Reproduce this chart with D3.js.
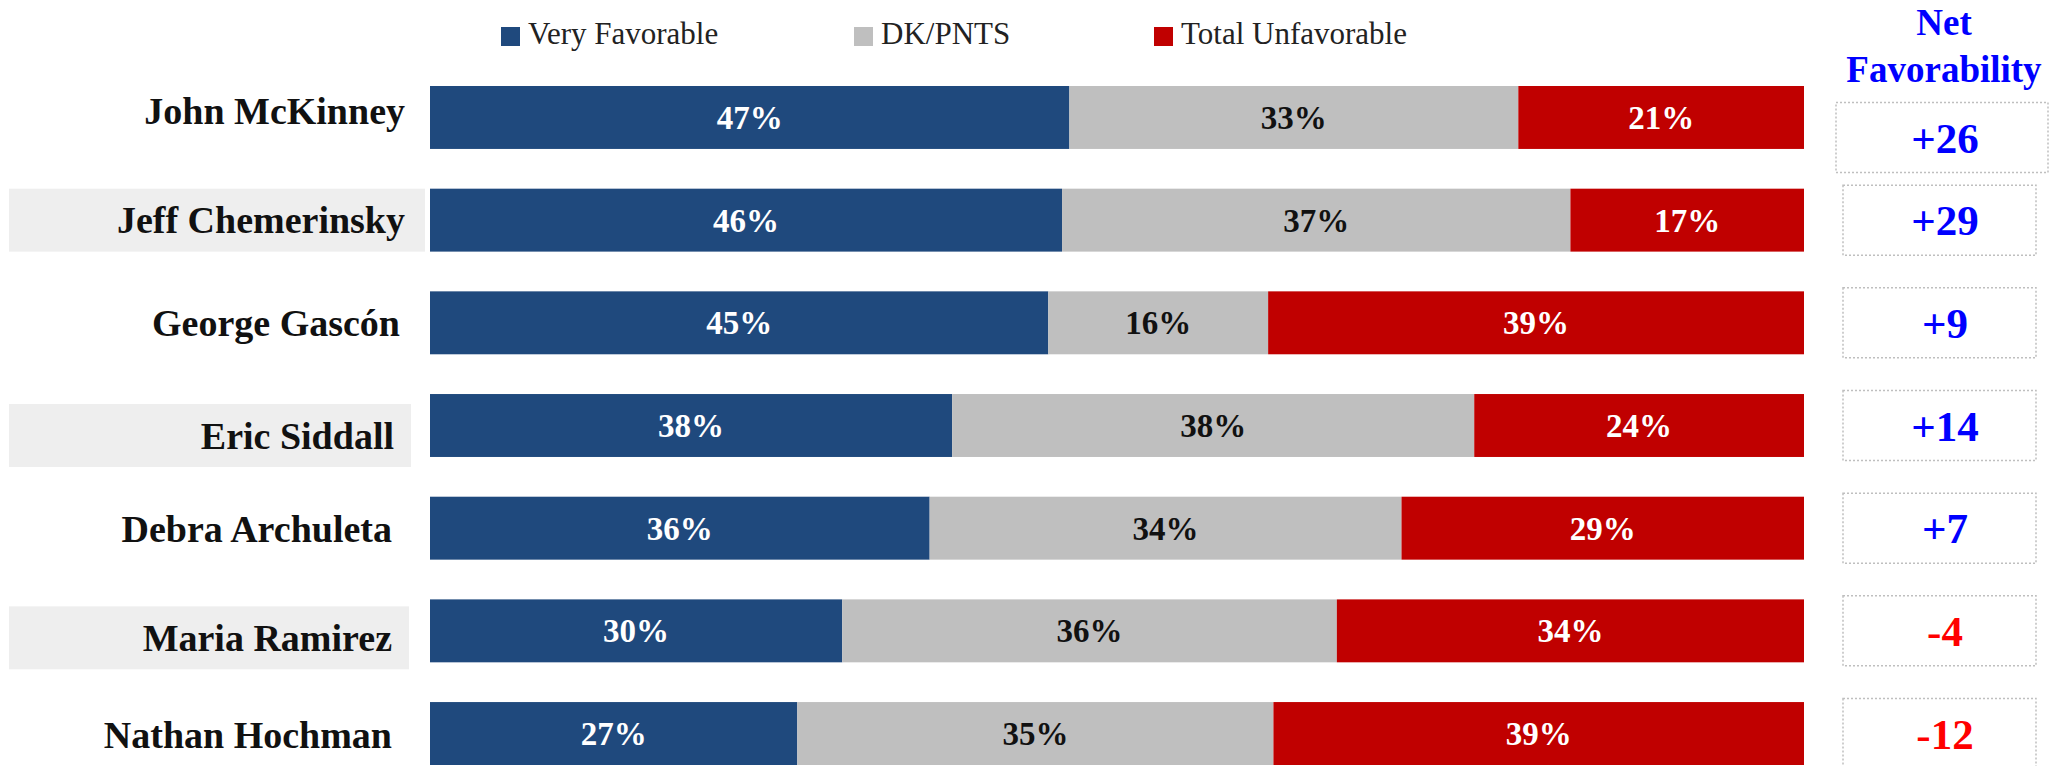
<!DOCTYPE html>
<html lang="en">
<head>
<meta charset="utf-8">
<title>Favorability</title>
<script src="https://cdnjs.cloudflare.com/ajax/libs/d3/7.8.5/d3.min.js"></script>
<style>
  body { margin: 0; background: #fff; }
  svg { display: block; font-family: 'Liberation Serif', 'Times New Roman', serif; }
</style>
</head>
<body>
<svg id="chart"></svg>
<script>
// candidates, top to bottom
var candidates = ["John McKinney", "Jeff Chemerinsky", "George Gascón", "Eric Siddall",
                  "Debra Archuleta", "Maria Ramirez", "Nathan Hochman"];
var veryFavorable    = [47, 46, 45, 38, 36, 30, 27];
var dkPnts           = [33, 37, 16, 38, 34, 36, 35];
var totalUnfavorable = [21, 17, 39, 24, 29, 34, 39];
var netFavorability  = [26, 29, 9, 14, 7, -4, -12];
var highlighted      = ["Jeff Chemerinsky", "Eric Siddall", "Maria Ramirez"];

var seriesKeys   = ["vf", "dk", "tu"];
var seriesNames  = ["Very Favorable", "DK/PNTS", "Total Unfavorable"];
var seriesColors = ["#1F497D", "#BFBFBF", "#C00000"];
var textColors   = ["#ffffff", "#111111", "#ffffff"];

var width = 2051, height = 766;
var svg = d3.select("#chart").attr("width", width).attr("height", height);

var rows = candidates.map(function(c, i) {
  return { name: c, vf: veryFavorable[i], dk: dkPnts[i], tu: totalUnfavorable[i], net: netFavorability[i] };
});

// each bar fills the whole width (rows don't always add to 100)
var stacked = d3.stack().keys(seriesKeys).offset(d3.stackOffsetExpand)(rows);

var x = d3.scaleLinear().domain([0, 1]).range([430, 1804]);
var y = d3.scaleBand().domain(candidates).range([86, 765]).paddingInner(0.387).paddingOuter(0);
var colour = d3.scaleOrdinal().domain(seriesKeys).range(seriesColors);
var textColour = d3.scaleOrdinal().domain(seriesKeys).range(textColors);

// the slide's name labels are not quite lined up; nudge them like the original
var labelShift = [-7, 0, 0, 10, 1, 7, 1];
var labelRight = [405, 405, 400, 394, 392, 392, 392];
var boxRight   = { "Jeff Chemerinsky": 425, "Eric Siddall": 411, "Maria Ramirez": 409 };

// grey boxes behind some names
svg.append("g")
  .selectAll("rect")
  .data(rows.filter(function(d) { return highlighted.indexOf(d.name) >= 0; }))
  .enter().append("rect")
    .attr("x", 9)
    .attr("y", function(d) { return y(d.name) + labelShift[candidates.indexOf(d.name)]; })
    .attr("width", function(d) { return boxRight[d.name] - 9; })
    .attr("height", y.bandwidth())
    .attr("fill", "#EEEEEE");

// names
svg.append("g")
  .selectAll("text")
  .data(rows)
  .enter().append("text")
    .attr("x", function(d, i) { return labelRight[i]; })
    .attr("y", function(d, i) { return y(d.name) + y.bandwidth() / 2 + labelShift[i]; })
    .attr("dy", "0.35em")
    .attr("text-anchor", "end")
    .style("font-size", "38px")
    .style("font-weight", "bold")
    .attr("fill", "#111")
    .text(function(d) { return d.name; });

// stacked bars
var layer = svg.append("g")
  .selectAll("g")
  .data(stacked)
  .enter().append("g");

layer.selectAll("rect")
  .data(function(s) { return s.map(function(p) { p.key = s.key; return p; }); })
  .enter().append("rect")
    .attr("x", function(p) { return x(p[0]); })
    .attr("y", function(p) { return y(p.data.name); })
    .attr("width", function(p) { return x(p[1]) - x(p[0]); })
    .attr("height", y.bandwidth())
    .attr("fill", function(p) { return colour(p.key); });

layer.selectAll("text")
  .data(function(s) { return s; })
  .enter().append("text")
    .attr("x", function(p) { return (x(p[0]) + x(p[1])) / 2; })
    .attr("y", function(p) { return y(p.data.name) + y.bandwidth() / 2; })
    .attr("dy", "0.35em")
    .attr("text-anchor", "middle")
    .style("font-size", "33px")
    .style("font-weight", "bold")
    .attr("fill", function(p) { return textColour(p.key); })
    .text(function(p) { return p.data[p.key] + "%"; });

// legend
var legendX = [501, 854, 1154];
var legend = svg.append("g")
  .selectAll("g")
  .data(seriesKeys)
  .enter().append("g")
    .attr("transform", function(k, i) { return "translate(" + legendX[i] + ",27)"; });

legend.append("rect")
  .attr("width", 19).attr("height", 19)
  .attr("fill", function(k) { return colour(k); });

legend.append("text")
  .attr("x", 27).attr("y", 17)
  .style("font-size", "31px")
  .attr("fill", "#222")
  .text(function(k, i) { return seriesNames[i]; });

// net favorability column
var netX = 1940;
var header = svg.append("text")
  .attr("text-anchor", "middle")
  .style("font-size", "37px")
  .style("font-weight", "bold")
  .attr("fill", "#0000FF");
header.append("tspan").attr("x", netX + 4).attr("y", 35).text("Net");
header.append("tspan").attr("x", netX + 4).attr("y", 82).text("Favorability");

var boxH = 70;
var net = svg.append("g")
  .selectAll("g")
  .data(rows)
  .enter().append("g")
    .attr("transform", function(d, i) {
      var cy = y(d.name) + y.bandwidth() / 2 + (i === 0 ? 20 : 0);
      return "translate(" + netX + "," + cy + ")";
    });

net.append("rect")
  .attr("x", function(d, i) { return i === 0 ? -104 : -97; })
  .attr("y", -boxH / 2)
  .attr("width", function(d, i) { return i === 0 ? 212 : 193; })
  .attr("height", boxH)
  .attr("fill", "none")
  .attr("stroke", "#BFBFBF")
  .attr("stroke-width", 1.5)
  .attr("stroke-dasharray", "2,2");

net.append("text")
  .attr("x", 5)
  .attr("text-anchor", "middle")
  .attr("dy", "0.35em")
  .style("font-size", "43px")
  .style("font-weight", "bold")
  .attr("fill", function(d) { return d.net >= 0 ? "#0000FF" : "#FF0000"; })
  .text(function(d) { return (d.net >= 0 ? "+" : "") + d.net; });
</script>
</body>
</html>
